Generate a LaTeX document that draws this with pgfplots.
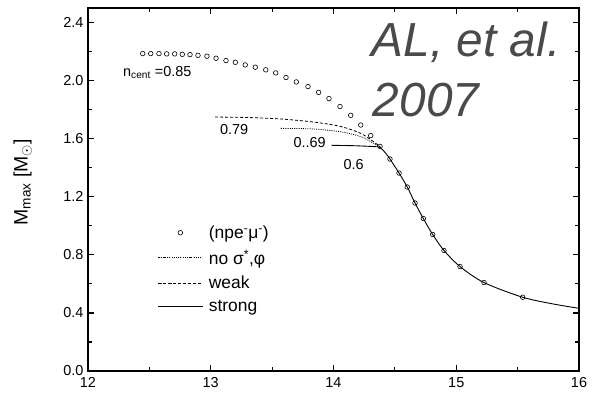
\documentclass[border=0pt]{standalone}
\usepackage{fontspec}
\setmainfont{Liberation Sans}
\usepackage{pgfplots}
\pgfplotsset{compat=1.18}
\definecolor{algray}{HTML}{4A4A4A}
\begin{document}
\begin{tikzpicture}
\path[use as bounding box] (-88bp,-26bp) rectangle (509bp,371bp);
\begin{axis}[
  at={(0,0)}, anchor=south west,
  scale only axis, width=491bp, height=363bp,
  xmin=12, xmax=16, ymin=0, ymax=2.5,
  xtick={12,13,14,15,16}, minor xtick={12.5,13.5,14.5,15.5},
  ytick={0,0.4,0.8,1.2,1.6,2.0,2.4}, minor ytick={0.2,0.6,1.0,1.4,1.8,2.2},
  xticklabel style={/pgf/number format/fixed, /pgf/number format/precision=0, yshift=-3bp},
  yticklabel style={/pgf/number format/fixed, /pgf/number format/fixed zerofill, /pgf/number format/precision=1, xshift=-1bp},
  /pgf/number format/assume math mode=true,
  tick align=inside, tick pos=both,
  major tick length=6bp, minor tick length=4bp,
  every tick/.style={black, line width=1.2bp},
  axis line style={line width=1.5bp},
  tick label style={font=\fontsize{14.5}{17}\selectfont},
  ylabel={M\textsubscript{max} [M\textsubscript{$\odot$}]},
  every axis y label/.style={at={(axis description cs:-0.133,0.52)}, rotate=90, anchor=center, font=\fontsize{19.5}{22}\selectfont},
  legend image code/.code={\path[draw=none,fill=none] (0bp,-2bp) rectangle (49bp,2bp); \draw[mark repeat=2,mark phase=2,#1] plot coordinates {(0bp,0bp)(22bp,0bp)(44bp,0bp)};},
  legend style={at={(axis description cs:0.142,0.405)}, anchor=north west, draw=none, fill=none,
    font=\fontsize{17.5}{20}\selectfont, row sep=7bp, inner sep=0pt,
    nodes={inner sep=1.5bp}},
  legend cell align=left,
  clip=false,
]
\addplot[only marks, mark=o, mark size=2.3bp, mark options={line width=0.6bp}] coordinates {
(12.446,2.186)(12.511,2.186)(12.578,2.186)(12.641,2.184)(12.706,2.184)(12.768,2.181)
(12.831,2.179)(12.896,2.174)(12.969,2.168)(13.043,2.154)(13.124,2.138)(13.200,2.126)
(13.281,2.108)(13.363,2.092)(13.448,2.074)(13.529,2.053)(13.613,2.021)(13.697,1.991)
(13.792,1.959)(13.879,1.919)(13.963,1.876)(14.053,1.821)(14.140,1.761)(14.222,1.694)
(14.303,1.621)(14.379,1.547)(14.460,1.460)(14.534,1.363)(14.601,1.267)(14.664,1.157)
(14.732,1.050)(14.808,0.940)(14.900,0.830)(15.031,0.719)(15.226,0.609)(15.541,0.508)
};
\addlegendentry{(npe\textsuperscript{-}μ\textsuperscript{-})}
\addplot[black, line width=0.8bp, dash pattern=on 1bp off 1.2bp, smooth] coordinates {
(13.572,1.671)(13.835,1.667)(14.053,1.648)(14.216,1.616)(14.324,1.570)(14.381,1.543)
};
\addlegendentry{no σ\textsuperscript{*},φ}
\addplot[black, line width=0.8bp, dash pattern=on 3bp off 2bp, smooth] coordinates {
(13.035,1.749)(13.293,1.746)(13.564,1.736)(13.835,1.715)(14.053,1.685)(14.216,1.639)(14.324,1.581)(14.381,1.543)
};
\addlegendentry{weak}
\addplot[black, line width=0.9bp, smooth] coordinates {
(13.985,1.554)(14.15,1.552)(14.27,1.548)(14.34,1.545)(14.379,1.540)(14.42,1.505)(14.460,1.460)
(14.534,1.363)(14.601,1.267)(14.664,1.157)(14.732,1.050)(14.808,0.940)(14.900,0.830)
(15.031,0.719)(15.226,0.609)(15.541,0.508)(15.80,0.460)(16.0,0.432)
};
\addlegendentry{strong}
\node[anchor=base west, inner sep=0pt, font=\fontsize{14.5}{17}\selectfont] at (axis cs:12.285,2.028) {n\textsubscript{cent} =0.85};
\node[anchor=base west, inner sep=0pt, font=\fontsize{14.5}{17}\selectfont] at (axis cs:13.075,1.628) {0.79};
\node[anchor=base west, inner sep=0pt, font=\fontsize{14.5}{17}\selectfont] at (axis cs:13.673,1.536) {0..69};
\node[anchor=base west, inner sep=0pt, font=\fontsize{14.5}{17}\selectfont] at (axis cs:14.08,1.386) {0.6};
\node[anchor=base west, inner sep=0pt, text=algray, font=\fontsize{48}{55}\selectfont\itshape] at (axis cs:14.31,2.168) {AL, et al.};
\node[anchor=base west, inner sep=0pt, text=algray, font=\fontsize{48}{55}\selectfont\itshape] at (axis cs:14.32,1.754) {2007};
\end{axis}
\end{tikzpicture}
\end{document}
